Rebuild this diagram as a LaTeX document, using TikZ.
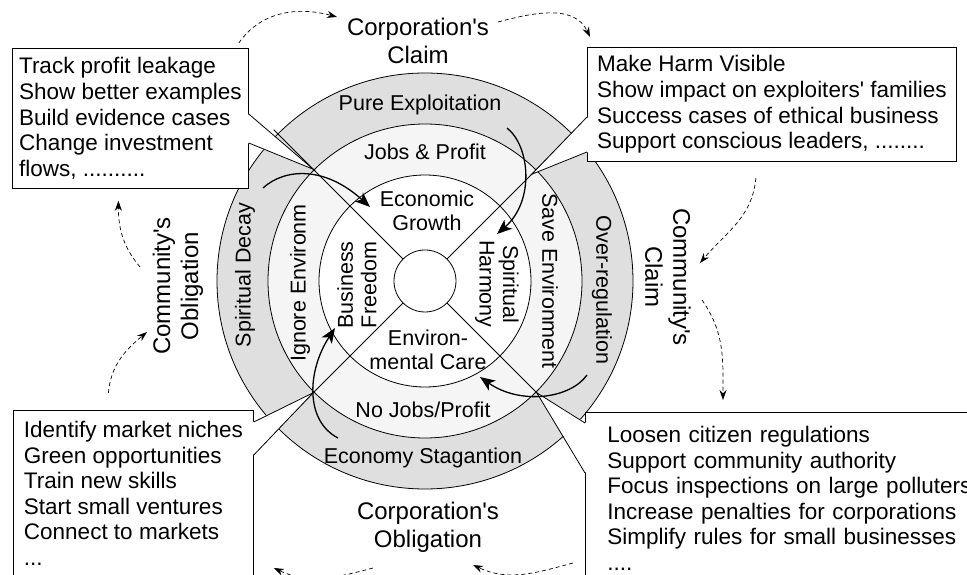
\documentclass[tikz,border=0pt]{standalone}
\usepackage{fontspec}
\setmainfont{Liberation Sans}[Ligatures=TeXOff]
\usetikzlibrary{arrows.meta}

\tikzset{
	ringlabel/.style={font=\fontsize{21.5}{23.5}\selectfont, align=center, inner sep=0pt},
	sidelabel/.style={font=\fontsize{24}{28}\selectfont, align=center, inner sep=0pt},
	callbox/.style={draw, fill=white, line width=0.8pt, anchor=north west, align=left, inner sep=0pt,
		font=\fontsize{22.5}{25.6}\selectfont},
	bigarrow/.style={line width=1.3pt, -{Stealth[length=15pt,width=12pt,inset=4pt]}},
	dashflow/.style={line width=0.7pt, dash pattern=on 4pt off 3pt, -{Stealth[length=10pt,width=7pt]}},
}

\begin{document}
\begin{tikzpicture}[x=1pt, y=1pt, line width=0.8pt]
		\useasboundingbox (-425,-294) rectangle (542,281);
		% Ringe
		\draw[fill=gray!25] (0,0) circle (208);
		\draw[fill=gray!8] (0,0) circle (157);
		\draw[fill=white] (0,0) circle (106);
		\node[circle, draw, fill=white, minimum size=62pt] (hub) at (0,0) {};
		% Diagonalen
		\foreach \a in {45,135,225,315}
			\draw (hub.\a) -- (\a:214);
		% innen
		\node[ringlabel] (growth) at (2,70) {Economic\\Growth};
		\node[ringlabel, rotate=-90] (harmony) at (72,-3) {Spiritual\\Harmony};
		\node[ringlabel] (care) at (3,-69) {Environ-\\mental Care};
		\node[ringlabel, rotate=90] (freedom) at (-68,-4) {Business\\Freedom};
		% Mitte
		\node[ringlabel] (jobs) at (0,129) {Jobs \& Profit};
		\node[ringlabel, rotate=-90] (save) at (125,0) {Save Environment};
		\node[ringlabel] (nojobs) at (-2,-129) {No Jobs/Profit};
		\node[ringlabel, rotate=90] (ignore) at (-125,-2) {Ignore Environm};
		% aussen
		\node[ringlabel] (pure) at (-5,176) {Pure Exploitation};
		\node[ringlabel, rotate=-90] (overreg) at (177,-9) {Over-regulation};
		\node[ringlabel] (stag) at (-2,-177) {Economy Stagantion};
		\node[ringlabel, rotate=90] (decay) at (-180,6) {Spiritual Decay};
		% Kästen
		\node[callbox, minimum width=236pt, minimum height=140pt]
			(tlbox) at (-413,233) {Track profit leakage\\Show better examples\\Build evidence cases\\Change investment\\flows, ..........};
		\node[callbox, minimum width=369pt, minimum height=114pt]
			(trbox) at (162,234) {Make Harm Visible\\Show impact on exploiters' families\\Success cases of ethical business\\Support conscious leaders, ........};
		\node[callbox, minimum width=240pt, minimum height=166pt]
			(blbox) at (-412,-129) {Identify market niches\\Green opportunities\\Train new skills\\Start small ventures\\Connect to markets\\...};
		\node[callbox, minimum width=420pt, minimum height=172pt, inner xsep=22pt, text width=376pt]
			(brbox) at (160,-131) {Loosen citizen regulations\\Support community authority\\Focus inspections on large polluters\\Increase penalties for corporations\\Simplify rules for small businesses\\....};
		% Zeiger
		\coordinate (tltip) at (135:158);
		\coordinate (trtip) at (45:151);
		\coordinate (bltip) at (225:158);
		\coordinate (brtip) at (315:158);
		\fill[white] ([shift={(-1,-66)}]tlbox.north east) -- (tltip) -- ([shift={(-1,-95)}]tlbox.north east) -- cycle;
		\draw ([shift={(0,-66)}]tlbox.north east) -- (tltip) -- ([shift={(0,-95)}]tlbox.north east);
		\fill[white] ([shift={(1,-70)}]trbox.north west) -- (trtip) -- ([shift={(1,-105)}]trbox.north west) -- cycle;
		\draw ([shift={(0,-70)}]trbox.north west) -- (trtip) -- ([shift={(0,-105)}]trbox.north west);
		\fill[white] ([shift={(-1,-12)}]blbox.north east) -- (bltip) -- ([shift={(-1,-45)}]blbox.north east) -- cycle;
		\draw ([shift={(0,-12)}]blbox.north east) -- (bltip) -- ([shift={(0,-45)}]blbox.north east);
		\fill[white] ([shift={(1,-11)}]brbox.north west) -- (brtip) -- ([shift={(1,-61)}]brbox.north west) -- cycle;
		\draw ([shift={(0,-11)}]brbox.north west) -- (brtip) -- ([shift={(0,-61)}]brbox.north west);
		% Seiten
		\node[sidelabel] (corpclaim) at (-7,240) {Corporation's\\Claim};
		\node[sidelabel, rotate=-90] (commclaim) at (243,4) {Community's\\Claim};
		\node[sidelabel] (corpoblig) at (3,-246) {Corporation's\\Obligation};
		\node[sidelabel, rotate=90] (commoblig) at (-247,-5) {Community's\\Obligation};
		% Pfeile
		\draw[bigarrow] (-162,93) .. controls (-140,113) and (-100,115) .. (-55,74);
		\draw[bigarrow] (82,153) .. controls (105,135) and (110,80) .. (72,47);
		\draw[bigarrow] (162,-94) .. controls (145,-118) and (95,-124) .. (55,-96);
		\draw[bigarrow] (-87,-157) .. controls (-120,-140) and (-118,-90) .. (-90,-47);
		% Kreislauf
		\draw[dashflow] ([shift={(-10,5)}]tlbox.north east) to[out=55,in=165] ([shift={(-81,24)}]corpclaim.center);
		\draw[dashflow] ([shift={(80,19)}]corpclaim.center) to[out=15,in=115] ([shift={(3,10)}]trbox.north west);
		\draw[dashflow] ([shift={(-16,-16)}]trbox.south) to[out=-95,in=50] ([shift={(32,14)}]commclaim.center);
		\draw[dashflow] ([shift={(34,-23)}]commclaim.center) to[out=-55,in=90] ([shift={(138,12)}]brbox.north west);
		\draw[dashflow] ([shift={(-12,-151)}]brbox.north west) to[out=195,in=-25] ([shift={(45,-38)}]corpoblig.center);
		\draw[dashflow] ([shift={(-55,-41)}]corpoblig.center) to[out=195,in=-25] ([shift={(20,-158)}]blbox.north east);
		\draw[dashflow] ([shift={(-25,17)}]blbox.north) to[out=85,in=220] ([shift={(-31,-46)}]commoblig.center);
		\draw[dashflow] ([shift={(-38,19)}]commoblig.center) to[out=130,in=-90] ([shift={(-12,-12)}]tlbox.south);
	\end{tikzpicture}
\end{document}
